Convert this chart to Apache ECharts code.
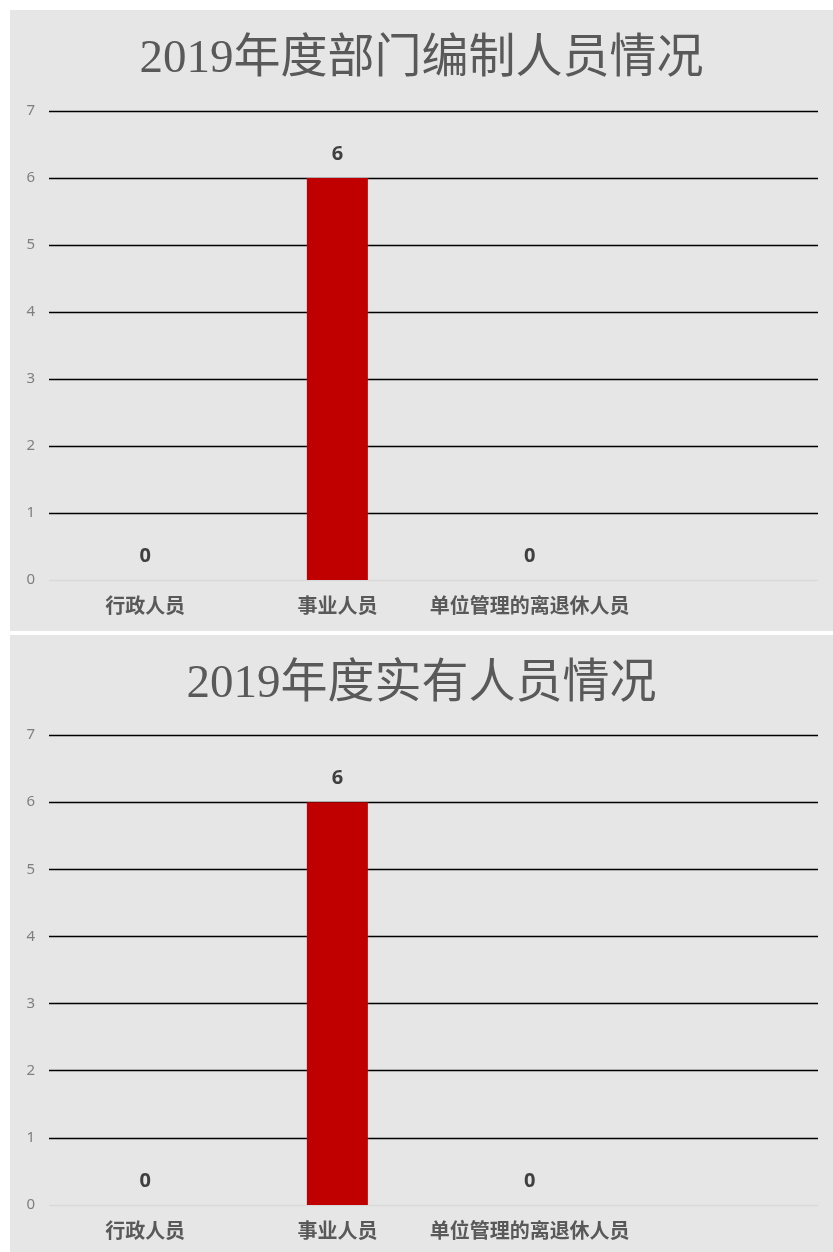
<!DOCTYPE html>
<html>
<head>
<meta charset="utf-8">
<script src="https://cdn.jsdelivr.net/npm/echarts@6/dist/echarts.min.js"></script>
<style>
html,body{margin:0;padding:0;background:#fff;width:833px;height:1252px;overflow:hidden;}
.p{position:absolute;background:#e7e6e6;}
</style>
</head>
<body>
<div id="c1" class="p" style="left:10px;top:10px;width:823px;height:621px;"></div>
<div id="c2" class="p" style="left:10px;top:635px;width:823px;height:617px;"></div>
<script>
var categories = ['行政人员', '事业人员', '单位管理的离退休人员', ''];
var title1 = '2019年度部门编制人员情况';
var title2 = '2019年度实有人员情况';
var values1 = [0, 6, 0, null];
var values2 = [0, 6, 0, null];
var yMin = 0, yMax = 7, yStep = 1;

function makeOption(title, values, gridTop, gridBottom, titleTop) {
  return {
    animation: false,
    title: {
      text: title, left: 'center', top: titleTop,
      textStyle: { fontFamily: 'Liberation Serif, Noto Sans CJK SC', fontSize: 47, fontWeight: 'normal', color: '#595959' }
    },
    grid: { left: 39, right: 15, top: gridTop, bottom: gridBottom },
    xAxis: {
      type: 'category', data: categories,
      axisLine: { show: false },
      axisTick: { show: false },
      axisLabel: { interval: 0, margin: 15, fontSize: 20, fontWeight: 'bold', color: '#595959', fontFamily: 'Noto Sans CJK SC' }
    },
    yAxis: {
      type: 'value', min: yMin, max: yMax, interval: yStep,
      axisLine: { show: false }, axisTick: { show: false },
      axisLabel: { margin: 14, fontSize: 15, color: '#7f7f7f', fontFamily: 'Noto Sans' },
      splitLine: { lineStyle: { color: ['#d9d9d9', '#000', '#000', '#000', '#000', '#000', '#000', '#000'], width: 1.3 } }
    },
    series: [{
      type: 'bar', data: values, barWidth: 61,
      itemStyle: { color: '#c00000' },
      label: { show: true, position: 'top', distance: 14, fontSize: 20, fontWeight: 'bold', color: '#404040', fontFamily: 'Noto Sans',
        formatter: function (p) { return p.value == null ? '' : p.value; } }
    }]
  };
}
echarts.init(document.getElementById('c1')).setOption(makeOption(title1, values1, 101, 51, 21));
echarts.init(document.getElementById('c2')).setOption(makeOption(title2, values2, 100, 47, 21));
</script>
</body>
</html>
